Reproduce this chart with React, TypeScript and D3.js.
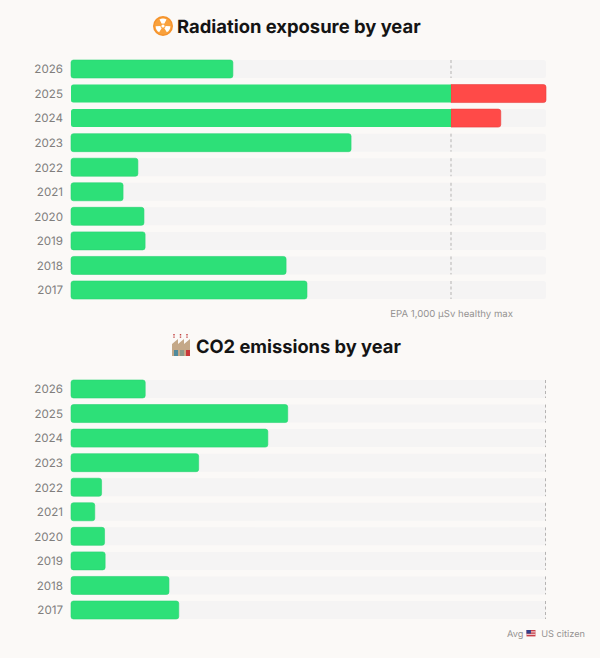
import React from 'react';
import * as d3 from 'd3';

const years = ['2026', '2025', '2024', '2023', '2022', '2021', '2020', '2019', '2018', '2017'];
// µSv per year
const radiation = [426, 1250, 1131, 737, 176, 137, 192, 195, 566, 621];
const radiationLimit = 1000;
const radiationMax = 1250;
// tons per year, the average citizen is the full width of the track
const co2 = [2.5, 7.3, 6.63, 4.3, 1.03, 0.8, 1.13, 1.15, 3.3, 3.63];
const co2Limit = 16;
const co2Max = 16;

const GREEN = '#2de078';
const RED = '#ff4a48';
const TRACK = '#f5f4f4';

const RadiationIcon = ({ x, y }: { x: number; y: number }) => {
  const blade = d3.arc()({ innerRadius: 2.6, outerRadius: 7.4, startAngle: -0.5, endAngle: 0.5 }) as string;
  return (
    <g transform={`translate(${x},${y})`}>
      <circle r={10} fill="#f5922a" />
      <circle r={8.6} fill="#f9a13c" />
      {[0, 120, 240].map(a => (
        <path key={a} d={blade} fill="#fff" transform={`rotate(${a})`} />
      ))}
      <circle r={1.6} fill="#fff" />
    </g>
  );
};

const FactoryIcon = ({ x, y }: { x: number; y: number }) => (
  <g transform={`translate(${x},${y})`}>
    <path d="M0 20 V8 L6 3 V8 L12 3 V8 L18 3 V20 Z" fill="#c4a888" />
    <rect x={2} y={14} width={4} height={6} fill="#4f8a9c" />
    <rect x={8} y={14} width={4} height={6} fill="#8d9a8a" />
    <rect x={14} y={14} width={4} height={6} fill="#c9383a" />
    {[2, 8.5, 15].map(cx => (
      <path key={cx} d={`M${cx} -2 V2`} stroke="#c2413f" strokeWidth={1.4} strokeDasharray="1.4 1" />
    ))}
  </g>
);

const Flag = ({ x, y }: { x: number; y: number }) => (
  <g transform={`translate(${x},${y})`}>
    <rect width={9} height={6.4} fill="#c9404a" />
    <rect y={1.4} width={9} height={1} fill="#f3e3e3" />
    <rect y={3.8} width={9} height={1} fill="#f3e3e3" />
    <rect width={4.4} height={3.6} fill="#34408a" />
  </g>
);

type PanelProps = {
  top: number;
  values: number[];
  limit: number;
  max: number;
};

const Panel = ({ top, values, limit, max }: PanelProps) => {
  const x = d3.scaleLinear().domain([0, max]).range([71, 546]);
  const y = d3.scaleBand().domain(years).range([top, top + 239]).paddingInner(0.267).paddingOuter(0);
  const h = y.bandwidth();

  return (
    <g>
      {years.map((year, i) => {
        const v = values[i];
        const yy = y(year) as number;
        const over = v > limit;
        const endX = x(Math.min(v, limit));
        return (
          <g key={year}>
            <text x={63} y={yy + h / 2 + 4.3} textAnchor="end" fontSize={11.6} fill="#807e7d">
              {year}
            </text>
            <rect x={x(0)} y={yy} width={x(max) - x(0)} height={h} rx={2.5} fill={TRACK} />
            {v < limit || limit === max ? (
              <line
                x1={x(limit) - (limit === max ? 0.5 : 0)}
                x2={x(limit) - (limit === max ? 0.5 : 0)}
                y1={yy}
                y2={yy + h}
                stroke="#b5b3b2"
                strokeWidth={1}
                strokeDasharray="3 2.5"
              />
            ) : null}
            {over ? (
              <path
                d={`M${x(limit)} ${yy}H${x(v) - 2.5}a2.5 2.5 0 0 1 2.5 2.5V${yy + h - 2.5}a2.5 2.5 0 0 1 -2.5 2.5H${x(limit)}Z`}
                fill={RED}
                stroke="#e8403f"
                strokeWidth={0.6}
              />
            ) : null}
            {over ? (
              <path
                d={`M${endX} ${yy}H${x(0) + 2.5}a2.5 2.5 0 0 0 -2.5 2.5V${yy + h - 2.5}a2.5 2.5 0 0 0 2.5 2.5H${endX}Z`}
                fill={GREEN}
              />
            ) : (
              <rect
                x={x(0)}
                y={yy}
                width={x(v) - x(0)}
                height={h}
                rx={2.5}
                fill={GREEN}
                stroke="#2ad473"
                strokeWidth={0.6}
              />
            )}
          </g>
        );
      })}
    </g>
  );
};

export default function App() {
  return (
    <svg
      width={600}
      height={658}
      viewBox="0 0 600 658"
      style={{
        position: 'absolute',
        left: 0,
        top: 0,
        background: '#fbf9f7',
        fontFamily: 'Inter, sans-serif',
        textRendering: 'geometricPrecision',
      }}
    >
      <RadiationIcon x={163} y={26} />
      <text x={177} y={33} fontSize={18.4} fontWeight={700} fill="#141414">
        Radiation exposure by year
      </text>
      <Panel top={60} values={radiation} limit={radiationLimit} max={radiationMax} />
      <text x={513} y={316.5} textAnchor="end" fontSize={9.6} fill="#959392">
        EPA 1,000 µSv healthy max
      </text>

      <FactoryIcon x={172} y={336} />
      <text x={196} y={353} fontSize={18.3} fontWeight={700} fill="#141414">
        CO2 emissions by year
      </text>
      <Panel top={380} values={co2} limit={co2Limit} max={co2Max} />
      <text x={507} y={636.5} fontSize={9.2} fill="#959392">
        Avg
      </text>
      <Flag x={526.5} y={630} />
      <text x={585} y={636.5} textAnchor="end" fontSize={9.2} fill="#959392">
        US citizen
      </text>
    </svg>
  );
}
